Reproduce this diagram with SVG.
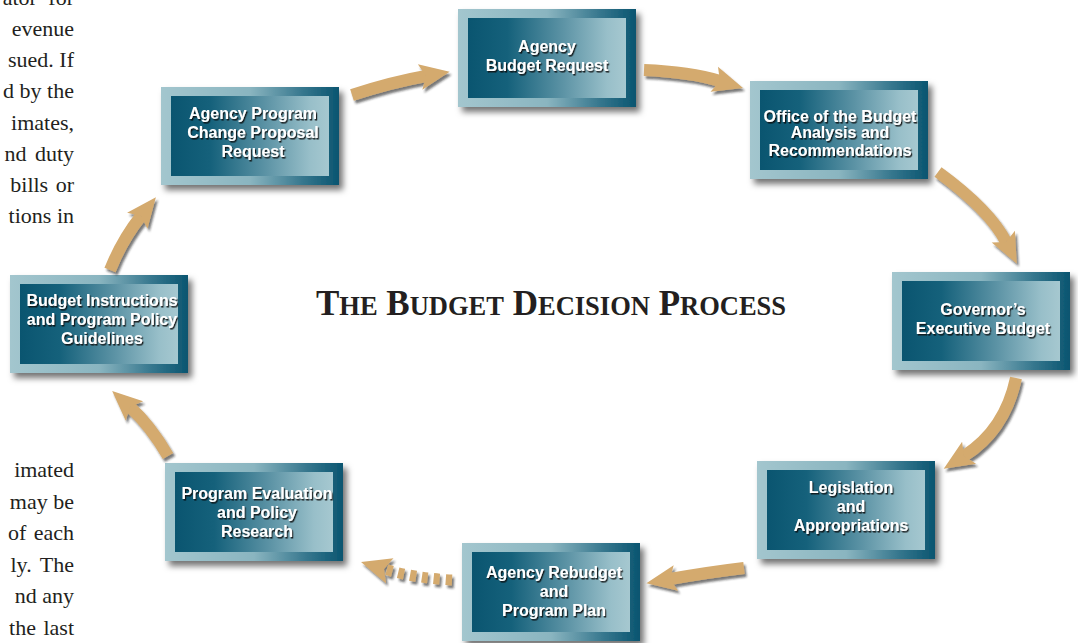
<svg xmlns="http://www.w3.org/2000/svg" width="1078" height="643" viewBox="0 0 1078 643">
<style>
.body{font-family:"Liberation Serif","Times New Roman",serif;font-size:22px;fill:#231f20;text-anchor:end}
.title{font-family:"Liberation Serif","Times New Roman",serif;font-weight:bold;fill:#231f20;text-anchor:middle}
.outer{fill:url(#outerGrad);filter:url(#boxShadow)}
.inner{fill:url(#innerGrad)}
.lbl{font-family:"Liberation Sans",Arial,sans-serif;font-weight:bold;font-size:16px;fill:#ffffff;text-anchor:middle;filter:url(#textShadow)}
.arr{fill:none;stroke:#d4aa6e;stroke-width:12;marker-end:url(#head)}
.dash{stroke-dasharray:6 6;stroke-width:11}
</style>
<defs>
<linearGradient id="outerGrad" x1="0" y1="0" x2="1" y2="0">
<stop offset="0" stop-color="#a3c6ce"/>
<stop offset="0.5" stop-color="#8ab5c0"/>
<stop offset="0.8" stop-color="#35768d"/>
<stop offset="1" stop-color="#0a5570"/>
</linearGradient>
<linearGradient id="innerGrad" x1="0" y1="0" x2="1" y2="0">
<stop offset="0" stop-color="#0a5570"/>
<stop offset="0.25" stop-color="#15617b"/>
<stop offset="0.6" stop-color="#5c93a5"/>
<stop offset="0.88" stop-color="#98bfc9"/>
<stop offset="1" stop-color="#a6c8d0"/>
</linearGradient>
<filter id="boxShadow" x="-10%" y="-10%" width="130%" height="140%">
<feDropShadow dx="4" dy="5" stdDeviation="3" flood-color="#000" flood-opacity="0.55"/>
</filter>
<filter id="arrowShadow" x="-20%" y="-20%" width="150%" height="150%">
<feDropShadow dx="2" dy="3" stdDeviation="1.2" flood-color="#222" flood-opacity="0.6"/>
</filter>
<filter id="textShadow" x="-10%" y="-30%" width="120%" height="160%">
<feDropShadow dx="1.2" dy="1.5" stdDeviation="0.6" flood-color="#111" flood-opacity="0.9"/>
</filter>
<marker id="head" markerUnits="userSpaceOnUse" viewBox="-7 -14 34 28" markerWidth="34" markerHeight="28" refX="0" refY="0" orient="auto" overflow="visible">
<path d="M-6,-13 L24,0 L-6,13 L0,0 Z" fill="#d4aa6e"/>
</marker>
</defs>

<g id="bodytext">
<text class="body" x="74" y="5" word-spacing="6">ator for</text>
<text class="body" x="74" y="35.5">evenue</text>
<text class="body" x="74" y="66.5">sued. If</text>
<text class="body" x="74" y="98">d by the</text>
<text class="body" x="74" y="129.5">imates,</text>
<text class="body" x="74" y="161" word-spacing="3">nd duty</text>
<text class="body" x="74" y="192" word-spacing="2">bills or</text>
<text class="body" x="74" y="223">tions in</text>
<text class="body" x="74" y="477">imated</text>
<text class="body" x="74" y="509">may be</text>
<text class="body" x="74" y="540" word-spacing="2">of each</text>
<text class="body" x="74" y="572" word-spacing="3">ly. The</text>
<text class="body" x="74" y="603">nd any</text>
<text class="body" x="74" y="635" word-spacing="2">the last</text>
</g>

<text class="title" x="551" y="315"><tspan font-size="35">T</tspan><tspan font-size="26.5">HE</tspan><tspan font-size="35"> B</tspan><tspan font-size="26.5">UDGET</tspan><tspan font-size="35"> D</tspan><tspan font-size="26.5">ECISION</tspan><tspan font-size="35"> P</tspan><tspan font-size="26.5">ROCESS</tspan></text>

<g id="n1">
<rect class="outer" x="458" y="9" width="178" height="98"/>
<rect class="inner" x="468" y="18" width="158" height="80"/>
<text class="lbl" x="547" y="52">Agency</text>
<text class="lbl" x="547" y="71">Budget Request</text>
</g>
<g id="n2">
<rect class="outer" x="750" y="81" width="178" height="98"/>
<rect class="inner" x="760" y="90" width="158" height="80"/>
<text class="lbl" x="840" y="122">Office of the Budget</text>
<text class="lbl" x="840" y="138">Analysis and</text>
<text class="lbl" x="840" y="156">Recommendations</text>
</g>
<g id="n3">
<rect class="outer" x="892" y="272" width="178" height="98"/>
<rect class="inner" x="902" y="281" width="158" height="80"/>
<text class="lbl" x="983" y="315">Governor’s</text>
<text class="lbl" x="983" y="334">Executive Budget</text>
</g>
<g id="n4">
<rect class="outer" x="757" y="461" width="178" height="98"/>
<rect class="inner" x="767" y="470" width="158" height="80"/>
<text class="lbl" x="851" y="493">Legislation</text>
<text class="lbl" x="851" y="512">and</text>
<text class="lbl" x="851" y="531">Appropriations</text>
</g>
<g id="n5">
<rect class="outer" x="462" y="543" width="178" height="98"/>
<rect class="inner" x="472" y="552" width="158" height="80"/>
<text class="lbl" x="554" y="578">Agency Rebudget</text>
<text class="lbl" x="554" y="597">and</text>
<text class="lbl" x="554" y="616">Program Plan</text>
</g>
<g id="n6">
<rect class="outer" x="165" y="463" width="178" height="98"/>
<rect class="inner" x="175" y="472" width="158" height="80"/>
<text class="lbl" x="257" y="499">Program Evaluation</text>
<text class="lbl" x="257" y="518">and Policy</text>
<text class="lbl" x="257" y="537">Research</text>
</g>
<g id="n7">
<rect class="outer" x="10" y="275" width="178" height="98"/>
<rect class="inner" x="20" y="284" width="158" height="80"/>
<text class="lbl" x="102" y="306">Budget Instructions</text>
<text class="lbl" x="102" y="325">and Program Policy</text>
<text class="lbl" x="102" y="344">Guidelines</text>
</g>
<g id="n8">
<rect class="outer" x="161" y="87" width="178" height="98"/>
<rect class="inner" x="171" y="96" width="158" height="80"/>
<text class="lbl" x="253" y="119">Agency Program</text>
<text class="lbl" x="253" y="138">Change Proposal</text>
<text class="lbl" x="253" y="157">Request</text>
</g>

<g id="connectors" filter="url(#arrowShadow)">
<path class="arr" d="M352,95 Q392,82 426,76"/>
<path class="arr" d="M644,70 Q690,72 720,81"/>
<path class="arr" d="M938,172 Q990,210 1006,242"/>
<path class="arr" d="M1016,378 Q1005,430 964,456"/>
<path class="arr" d="M744,568 Q710,572 670,579"/>
<path class="arr dash" d="M452,580 Q414,578 384,569"/>
<path class="arr" d="M168,456 Q150,425 130,407"/>
<path class="arr" d="M110,270 Q122,240 141,216"/>
</g>
</svg>
